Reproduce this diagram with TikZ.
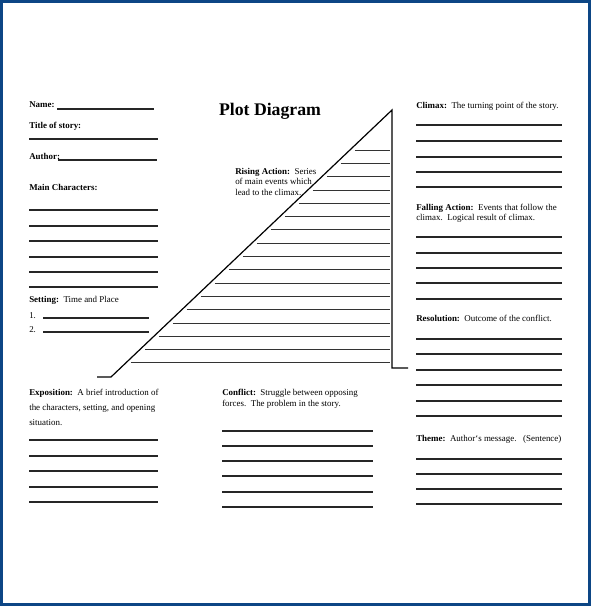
\documentclass[tikz,border=0pt]{standalone}
\usepackage{fontspec}
\setmainfont{Liberation Serif}
\definecolor{framecol}{RGB}{13,70,133}

\begin{document}
\begin{tikzpicture}[x=0.75pt,y=-0.75pt,
	txt/.style={anchor=base west,inner sep=0pt,font=\fontsize{6.7}{8}\selectfont},
	rule/.style={line width=0.9pt,black!85},
	tri/.style={line width=0.6pt,black!80}]
				% Rahmen
				\fill[framecol] (0,0) rectangle (591,606);
				\fill[white] (3,3) rectangle (588,603);
				\useasboundingbox (0,0) rectangle (591,606);
				
				% Titel
				\node[inner sep=0pt,font=\bfseries\fontsize{13.3}{15}\selectfont] (title) at (270,111) {Plot Diagram};
				
				% linke Spalte
				\node[txt] (name) at (29,108) {\textbf{Name:}};
				\draw[rule] (57,109) -- (154,109);
				\node[txt] (story) at (29,128) {\textbf{Title of story:}};
				\draw[rule] (29,139) -- (158,139);
				\node[txt] (author) at (29,159) {\textbf{Author:}};
				\draw[rule] (58,160) -- (157,160);
				\node[txt] (chars) at (29,190) {\textbf{Main Characters:}};
				\foreach \y in {210,226,241,257,272,287}
				\draw[rule] (29,\y) -- (158,\y);
				\node[txt] (setting) at (29,302) {\textbf{Setting:}\ \ Time and Place};
				\node[txt] (one) at (29,318) {1.};
				\draw[rule] (43,318) -- (149,318);
				\node[txt] (two) at (29,332) {2.};
				\draw[rule] (43,332) -- (149,332);
				
				% Exposition
				\node[txt] (expo1) at (29,395) {\textbf{Exposition:}\ \ A brief introduction of};
				\node[txt] (expo2) at (29,410) {the characters, setting, and opening};
				\node[txt] (expo3) at (29,425) {situation.};
				\foreach \y in {440,456,471,487,502}
				\draw[rule] (29,\y) -- (158,\y);
				
				% Konflikt
				\node[txt] (confl1) at (222,395) {\textbf{Conflict:}\ \ Struggle between opposing};
				\node[txt] (confl2) at (222,406) {forces.\ \ The problem in the story.};
				\foreach \y in {431,446,461,476,492,507}
				\draw[rule] (222,\y) -- (373,\y);
				
				% Dreieck
				\coordinate (apex) at (392,110);
				\coordinate (foot) at (111,377);
				\draw[line width=0.9pt] (97,377) -- (foot) -- (apex) -- (392,368) -- (408,368);
				\foreach \i in {0,...,16}{
					\pgfmathsetmacro{\yy}{150+\i*13.3}
					\pgfmathsetmacro{\xx}{111+(377-\yy)/267*281+5}
					\draw[tri] (\xx,\yy) -- (390,\yy);
				}
				\node[txt] (rise1) at (235,175) {\textbf{Rising Action:}\ \ Series};
				\node[txt] (rise2) at (235,185) {of main events which};
				\node[txt] (rise3) at (235,195) {lead to the climax.};
				
				% rechte Spalte
				\node[txt] (climax) at (416,109) {\textbf{Climax:}\ \ The turning point of the story.};
				\foreach \y in {125,141,157,172,187}
				\draw[rule] (416,\y) -- (562,\y);
				\node[txt] (fall1) at (416,210) {\textbf{Falling Action:}\ \ Events that follow the};
				\node[txt] (fall2) at (416,220) {climax.\ \ Logical result of climax.};
				\foreach \y in {237,253,268,283,299}
				\draw[rule] (416,\y) -- (562,\y);
				\node[txt] (resol) at (416,321) {\textbf{Resolution:}\ \ Outcome of the conflict.};
				\foreach \y in {339,354,370,385,401,416}
				\draw[rule] (416,\y) -- (562,\y);
				\node[txt] (theme) at (416,441) {\textbf{Theme:}\ \ Author`s message.\ \ \ (Sentence)};
				\foreach \y in {459,474,489,504}
				\draw[rule] (416,\y) -- (562,\y);
				
\end{tikzpicture}
\end{document}
